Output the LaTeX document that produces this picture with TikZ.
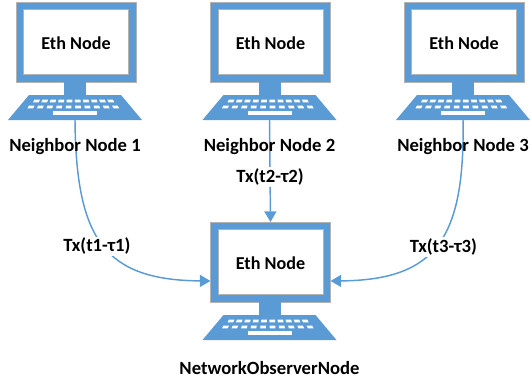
\documentclass[tikz,border=0pt]{standalone}
\usepackage{xcolor}
\usepackage{fontspec}
\setmainfont{Carlito}
\usetikzlibrary{arrows.meta,positioning}
\definecolor{netblue}{HTML}{5B9BD5}

\tikzset{
    monitor/.style={rectangle, draw=netblue, fill=white, line width=5.4pt, minimum width=84.6pt, minimum height=54.6pt, text height=11pt, text depth=0pt, font=\bfseries\fontsize{13.6}{15}\selectfont},
    stand/.style={rectangle, fill=netblue, inner sep=0pt, minimum width=16.5pt, minimum height=10pt},
    keycap/.style={fill=white, inner sep=0pt, minimum width=4.2pt, minimum height=2.2pt},
    hostname/.style={font=\bfseries\fontsize{14}{16}\selectfont},
    txlabel/.style={fill=white, inner sep=1pt, font=\bfseries\fontsize{14}{16}\selectfont},
    link/.style={draw=netblue, line width=1.1pt, -{Triangle[length=8pt,width=9pt]}},
    computer/.pic={
        \node[monitor] (-mon) at (0,0) {Eth Node};
        \draw[black!30, line width=0.4pt] (-60,-40) rectangle (60,40);
        \draw[black!30, line width=0.4pt] (-52.5,-32.5) rectangle (52.5,32.5);
        \node[stand] (-stand) at (-1,46.5) {};
        \fill[netblue] (-47,53) -- (45,53) -- (66,78) -- (-68,78) -- cycle;
        \coordinate (-key) at (-1,78);
        % Keys
        \foreach \k in {0,...,9} {
            \node[keycap, xslant=(4.5-\k)*0.12] at (-39.5+8.25*\k,59) {};
            \node[keycap, xslant=(4.5-\k)*0.12] at (-45+9.4*\k,65) {};
        }
        \node[fill=white, inner sep=0pt, minimum width=33pt, minimum height=2.8pt] at (-1,71) {};
    }
}

\begin{document}
\begin{tikzpicture}[x=0.75pt, y=-0.75pt]
\useasboundingbox (0,0) rectangle (531,383);

% Computers
\pic (first) at (76,42) {computer};
\pic (second) at (270.5,42) {computer};
\pic (third) at (464,42) {computer};
\pic (observer) at (270.5,262) {computer};

% Transactions
\draw[link] (first-key) .. controls (76,240) and (105,280) .. node[txlabel,pos=0.5,xshift=-5pt,yshift=-1pt] {Tx(t1-τ1)} ([yshift=-14.25pt]observer-mon.west);
\draw[link] (second-key) -- node[txlabel,pos=0.56] {Tx(t2-τ2)} (observer-mon.north);
\draw[link] (third-key) .. controls (465,240) and (435,280) .. node[txlabel,pos=0.5,xshift=5pt,yshift=-1.5pt] {Tx(t3-τ3)} ([yshift=-14.25pt]observer-mon.east);

% Names
\node[hostname] (firstname) [below=20pt of first-key, anchor=center] {Neighbor Node 1};
\node[hostname] (secondname) [below=20pt of second-key, anchor=center] {Neighbor Node 2};
\node[hostname] (thirdname) [below=20pt of third-key, anchor=center] {Neighbor Node 3};
\node[hostname] (observername) [below=21pt of observer-key, anchor=center] {NetworkObserverNode};

\end{tikzpicture}
\end{document}
